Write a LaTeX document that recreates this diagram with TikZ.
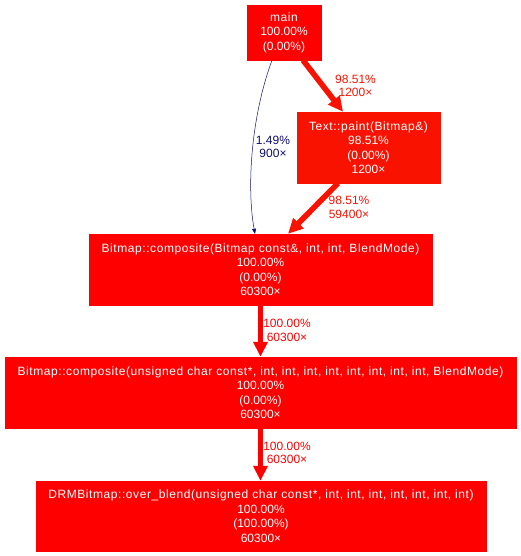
\documentclass[tikz,border=0pt]{standalone}
\usepackage{fontspec}
\setmainfont{Liberation Sans}
\newfontfamily\namefont[LetterSpace=4.8]{Liberation Sans}
\usetikzlibrary{arrows.meta}
\definecolor{hotred}{RGB}{255,0,0}
\definecolor{warmred}{RGB}{250,18,0}
\definecolor{coldblue}{RGB}{13,13,115}

\begin{document}
\begin{tikzpicture}[x=1pt,y=-1pt,
  fn/.style={fill=#1,draw=#1,text=white,align=center,inner sep=0pt,
    font=\fontsize{12}{14.5}\selectfont},
  fn/.default=hotred,
  hot/.style={draw=#1,line width=5.6pt,-{Triangle[length=15pt,width=14pt]}},
  hot/.default=hotred,
  cold/.style={draw=coldblue,line width=0.5pt,-{Triangle[length=5pt,width=4pt]}},
  lbl/.style={text=#1,align=center,inner sep=0pt,font=\fontsize{12}{13.5}\selectfont}]
  \useasboundingbox (0,0) rectangle (521,556);
  % functions
  \node[fn,minimum width=74pt,minimum height=55pt] (main) at (284,32.5) {{\namefont main}\\100.00\%\\(0.00\%)};
  \node[fn=warmred,minimum width=143pt,minimum height=71pt] (paint) at (368.5,147.5) {{\namefont Text::paint(Bitmap\&)}\\98.51\%\\(0.00\%)\\1200\texttimes};
  \node[fn,minimum width=343pt,minimum height=71pt] (compA) at (260.5,269.5) {{\namefont Bitmap::composite(Bitmap const\&, int, int, BlendMode)}\\100.00\%\\(0.00\%)\\60300\texttimes};
  \node[fn,minimum width=511pt,minimum height=71pt] (compB) at (260.5,392.5) {{\namefont Bitmap::composite(unsigned char const*, int, int, int, int, int, int, int, int, BlendMode)}\\100.00\%\\(0.00\%)\\60300\texttimes};
  \node[fn,minimum width=450pt,minimum height=70pt] (blend) at (261,516) {{\namefont DRMBitmap::over\_blend(unsigned char const*, int, int, int, int, int, int, int)}\\100.00\%\\(100.00\%)\\60300\texttimes};
  % calls
  \draw[hot=warmred] ([xshift=19pt]main.south) -- ([xshift=-25.5pt]paint.north);
  \draw[cold] ([xshift=-12pt]main.south) .. controls (250,120) and (247,190) .. ([xshift=-5.5pt]compA.north);
  \draw[hot=warmred] ([xshift=-30.5pt]paint.south) -- ([xshift=27.5pt]compA.north);
  \draw[hot] (compA.south) -- (compB.north);
  \draw[hot] (compB.south) -- ([xshift=-0.5pt]blend.north);
  % call labels
  \node[lbl=warmred] (l1) at (355.5,86) {98.51\%\\1200\texttimes};
  \node[lbl=coldblue] (l2) at (273,147) {1.49\%\\900\texttimes};
  \node[lbl=warmred] (l3) at (349,207.5) {98.51\%\\59400\texttimes};
  \node[lbl=hotred] (l4) at (287,330.5) {100.00\%\\60300\texttimes};
  \node[lbl=hotred] (l5) at (287,453) {100.00\%\\60300\texttimes};
\end{tikzpicture}
\end{document}
